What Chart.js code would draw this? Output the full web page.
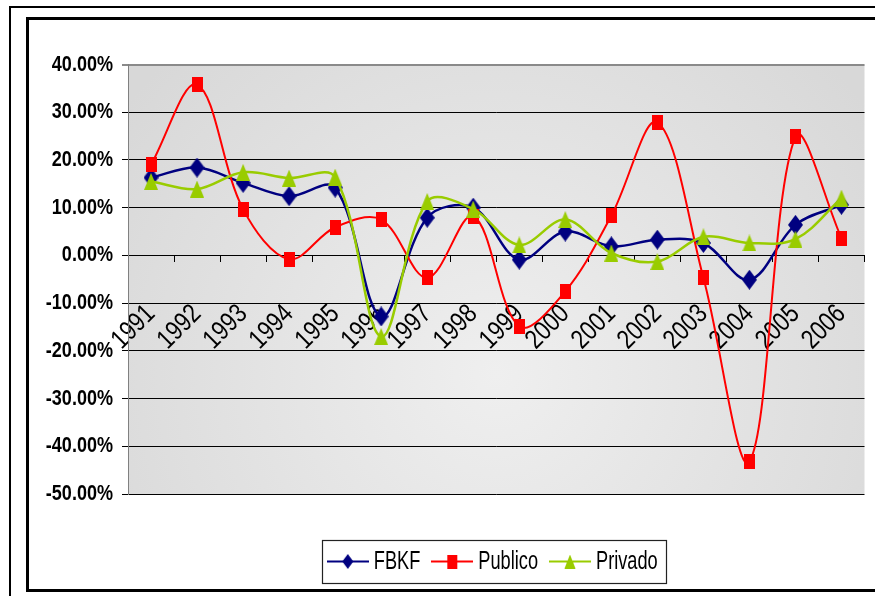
<!DOCTYPE html>
<html><head><meta charset="utf-8">
<script src="https://cdn.jsdelivr.net/npm/chart.js@4.4.1/dist/chart.umd.min.js"></script>
<style>
html,body{margin:0;padding:0;background:#fff;width:875px;height:596px;overflow:hidden;position:relative}
#outer{position:absolute;left:9px;top:6px;width:900px;height:700px;border-left:2px solid #000;border-top:2px solid #000}
#inner{position:absolute;left:26px;top:17px;width:900px;height:569px;border:3px solid #000;border-right:none}
#wrap{position:absolute;left:0;top:0;width:875px;height:596px}
</style></head><body>
<div id="outer"></div><div id="inner"></div>
<div id="wrap"><canvas id="c" width="875" height="596"></canvas></div>
<script>
const years = ['1991','1992','1993','1994','1995','1996','1997','1998','1999','2000','2001','2002','2003','2004','2005','2006'];
const fbkf = [16.3, 18.4, 15.2, 12.4, 14.2, -12.8, 7.9, 10.0, -0.9, 5.0, 1.9, 3.3, 2.6, -5.1, 6.4, 10.6];
const publico = [19.0, 35.8, 9.7, -0.8, 5.9, 7.5, -4.7, 8.2, -14.9, -7.5, 8.3, 27.9, -4.7, -43.2, 24.9, 3.6];
const privado = [15.5, 13.9, 17.4, 16.2, 16.4, -17.0, 11.3, 9.7, 2.2, 7.5, 0.5, -1.3, 3.9, 2.6, 3.4, 12.0];
const yTickLabels = ['-50.00%','-40.00%','-30.00%','-20.00%','-10.00%','0.00%','10.00%','20.00%','30.00%','40.00%'];
const seriesNames = ['FBKF','Publico','Privado'];
const seriesColors = ['#000080','#FF0000','#99CC00'];
const seriesWidths = [2.5, 2, 2.5];

// condensed text rendering (emulates the narrow Arial of the original)
const cvs = document.getElementById('c');
const g2 = cvs.getContext('2d');
const origFill = g2.fillText.bind(g2);
const origMeasure = g2.measureText.bind(g2);
function squeeze(font) { return /\b26px/.test(font) ? 0.7 : 0.82; }
g2.fillText = function (t, x, y) {
  const s = squeeze(this.font);
  this.save(); this.translate(x, y); this.scale(s, 1); origFill(t, 0, 0); this.restore();
};
g2.measureText = function (t) {
  const m = origMeasure(t); const s = squeeze(this.font);
  return { width: m.width * s, actualBoundingBoxLeft: m.actualBoundingBoxLeft * s, actualBoundingBoxRight: m.actualBoundingBoxRight * s,
    actualBoundingBoxAscent: m.actualBoundingBoxAscent, actualBoundingBoxDescent: m.actualBoundingBoxDescent,
    fontBoundingBoxAscent: m.fontBoundingBoxAscent, fontBoundingBoxDescent: m.fontBoundingBoxDescent };
};

function marker(kind, color, w, h, lineLen) {
  const c = document.createElement('canvas');
  const W = lineLen || w;
  c.width = W; c.height = h;
  const x = c.getContext('2d');
  const cx = W / 2, cy = h / 2;
  if (lineLen) { x.strokeStyle = color; x.lineWidth = 2; x.beginPath(); x.moveTo(0, cy); x.lineTo(W, cy); x.stroke(); }
  x.fillStyle = color; x.beginPath();
  if (kind === 'diamond') { x.moveTo(cx, cy - h / 2); x.lineTo(cx + w / 2, cy); x.lineTo(cx, cy + h / 2); x.lineTo(cx - w / 2, cy); }
  else if (kind === 'square') { x.rect(cx - w / 2, cy - h / 2, w, h); }
  else { x.moveTo(cx, cy - h / 2); x.lineTo(cx + w / 2, cy + h / 2); x.lineTo(cx - w / 2, cy + h / 2); }
  x.closePath(); x.fill();
  return c;
}
const plotMarkers = [marker('diamond', seriesColors[0], 15, 20), marker('square', seriesColors[1], 11, 15), marker('triangle', seriesColors[2], 14, 17)];
const legendMarkers = [marker('diamond', seriesColors[0], 11, 15, 42), marker('square', seriesColors[1], 10, 14, 42), marker('triangle', seriesColors[2], 11, 14, 42)];

const bgPlugin = {
  id: 'bg',
  beforeDraw(chart) {
    const { ctx, chartArea: a } = chart;
    const cx = a.left + a.width * 0.5, cy = a.top + a.height * 0.72;
    const g = ctx.createRadialGradient(cx, cy, 0, cx, cy, a.width * 0.62);
    g.addColorStop(0, '#efefef');
    g.addColorStop(1, '#d8d8d8');
    ctx.save(); ctx.fillStyle = g; ctx.fillRect(a.left, a.top, a.width, a.height); ctx.restore();
  }
};
const legendBox = {
  id: 'legendBox',
  afterDraw(chart) {
    const hb = chart.legend.legendHitBoxes;
    if (!hb || !hb.length) return;
    let l = Infinity, r = -Infinity, t = Infinity, b = -Infinity;
    hb.forEach(h => { l = Math.min(l, h.left); r = Math.max(r, h.left + h.width); t = Math.min(t, h.top); b = Math.max(b, h.top + h.height); });
    const ctx = chart.ctx;
    const L = Math.round(l - 13), T = Math.round(t - 8.5), R = Math.round(r + 8), B = Math.round(b + 8.5);
    ctx.save(); ctx.strokeStyle = '#222'; ctx.lineWidth = 1.2;
    ctx.strokeRect(L + 0.5, T + 0.5, R - L, B - T);
    ctx.restore();
  }
};

const sans = "'Liberation Sans', Arial, sans-serif";
const dataSets = [fbkf, publico, privado].map((d, i) => ({
  label: seriesNames[i], data: d, borderColor: seriesColors[i], backgroundColor: seriesColors[i],
  pointStyle: plotMarkers[i], pointRadius: 8, borderWidth: seriesWidths[i], tension: 0.35, order: 3 - i
}));

new Chart(cvs, {
  type: 'line',
  data: { labels: years, datasets: dataSets },
  plugins: [bgPlugin, legendBox],
  options: {
    responsive: false, animation: false,
    layout: { padding: { left: 0, right: 9, top: 64.5, bottom: 11.5 } },
    scales: {
      x: {
        position: { y: 0 }, offset: true,
        afterFit(s) { s.paddingLeft = 0; s.paddingRight = 0; },
        grid: { offset: true, drawOnChartArea: false, drawTicks: true, tickLength: 6, color: '#000' },
        border: { display: true, color: '#000', width: 1 },
        ticks: { autoSkip: false, minRotation: 45, maxRotation: 45, padding: 37, color: '#000', font: { family: sans, size: 27 } }
      },
      y: {
        min: -50, max: 40,
        afterFit(s) { s.width = 128; },
        ticks: { stepSize: 10, padding: 9, color: '#000', font: { family: sans, weight: 'bold', size: 22 }, callback: (v, i) => yTickLabels[i] },
        grid: { color: c => (c.tick && c.tick.value === 40) ? '#8a8a8a' : '#000', tickLength: 6, lineWidth: c => (c.tick && c.tick.value === 40) ? 2 : 1 },
        border: { display: true, color: '#808080' }
      }
    },
    plugins: {
      tooltip: { enabled: false },
      legend: {
        position: 'bottom', fullSize: false,
        title: { display: true, text: '', padding: 0, font: { size: 35.5, lineHeight: 1 } },
        labels: {
          usePointStyle: true, pointStyleWidth: 26, padding: 19, color: '#000',
          font: { family: sans, size: 26 },
          sort: (a, b) => a.datasetIndex - b.datasetIndex,
          generateLabels(chart) {
            const items = Chart.defaults.plugins.legend.labels.generateLabels(chart);
            items.forEach(it => { it.pointStyle = legendMarkers[it.datasetIndex]; });
            return items;
          }
        }
      }
    }
  }
});
</script>
</body></html>
